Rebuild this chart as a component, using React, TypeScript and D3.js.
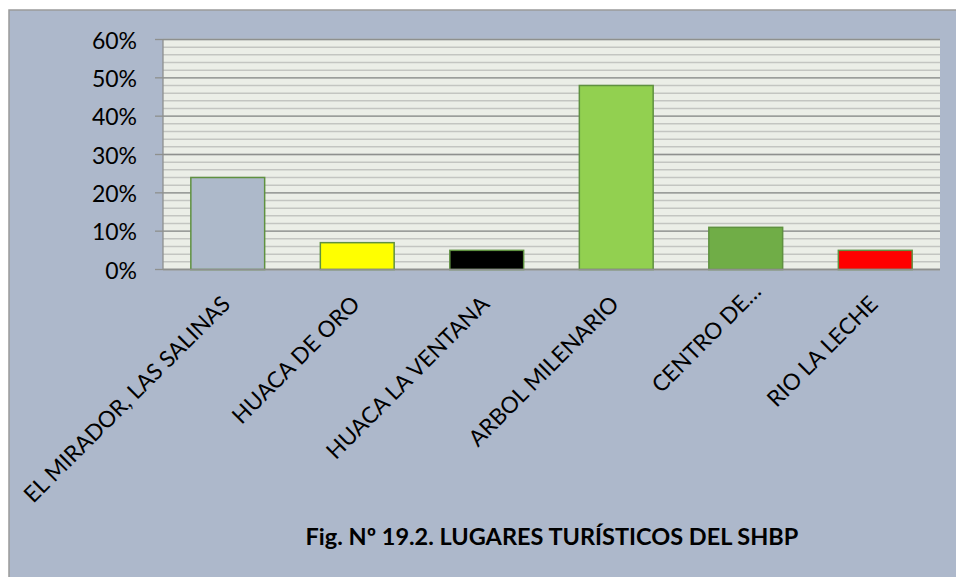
import React from "react";
import * as d3 from "d3";

const categories = [
  "EL MIRADOR, LAS SALINAS",
  "HUACA DE ORO",
  "HUACA LA VENTANA",
  "ARBOL MILENARIO",
  "CENTRO DE…",
  "RIO LA LECHE",
];
const values = [0.24, 0.07, 0.05, 0.48, 0.11, 0.05];
const barColors = ["#ADB9CA", "#FFFF00", "#000000", "#92D050", "#70AD47", "#FF0000"];
const yTicks = [0, 0.1, 0.2, 0.3, 0.4, 0.5, 0.6];
const minorTicks = d3.range(0, 0.6001, 0.02);
const title = "Fig. Nº 19.2. LUGARES TURÍSTICOS DEL SHBP";

const W = 956;
const H = 577;
const FONT = "Lato, 'Open Sans', sans-serif";

export default function App() {
  const plot = { left: 163, right: 940, top: 39.5, bottom: 269.5 };
  const x = d3
    .scaleBand<string>()
    .domain(categories)
    .range([plot.left, plot.right])
    .paddingInner(0.43)
    .paddingOuter(0.215);
  const y = d3.scaleLinear().domain([0, 0.6]).range([plot.bottom, plot.top]);
  const fmt = d3.format(".0%");

  return (
    <svg
      width={W}
      height={H}
      style={{ position: "absolute", left: 0, top: 0 }}
      fontFamily={FONT}
    >
      <rect x={0} y={0} width={W} height={H} fill="#ffffff" />
      <rect x={9} y={10} width={W} height={H} fill="#ADB8CB" stroke="#9a9a9a" strokeWidth={1.5} />
      <rect
        x={plot.left}
        y={plot.top}
        width={plot.right - plot.left}
        height={plot.bottom - plot.top}
        fill="#EBEEE7"
      />
      {minorTicks.map((t, i) => (
        <line
          key={"m" + i}
          x1={plot.left}
          x2={plot.right}
          y1={y(t)}
          y2={y(t)}
          stroke="#c3c5c1"
          strokeWidth={1.5}
        />
      ))}
      {yTicks.map((t, i) => (
        <g key={"t" + i}>
          <line x1={plot.left} x2={plot.right} y1={y(t)} y2={y(t)} stroke="#8e908e" strokeWidth={1.3} />
          <line x1={155} x2={plot.left} y1={y(t)} y2={y(t)} stroke="#8e908e" strokeWidth={1.3} />
          <text
            x={137}
            y={y(t)}
            textAnchor="end"
            dominantBaseline="central"
            fontSize={23}
            fill="#000"
          >
            {fmt(t)}
          </text>
        </g>
      ))}
      <line x1={plot.left} x2={plot.left} y1={plot.top} y2={plot.bottom} stroke="#8e908e" strokeWidth={1.3} />
      {categories.map((c, i) => (
        <rect
          key={"b" + i}
          x={x(c)}
          y={y(values[i])}
          width={x.bandwidth()}
          height={y(0) - y(values[i])}
          fill={barColors[i]}
          stroke="#5F9140"
          strokeWidth={1.5}
        />
      ))}
      <line x1={plot.left} x2={plot.right} y1={plot.bottom} y2={plot.bottom} stroke="#8e908e" strokeWidth={1.5} />
      {categories.map((c, i) => {
        const cx = (x(c) as number) + x.bandwidth() / 2;
        const shift = c.endsWith("…") ? 18 : 0;
        return (
          <text
            key={"l" + i}
            transform={`translate(${cx + 4},${plot.bottom + 36}) rotate(-45)`}
            textAnchor="end"
            dx={shift}
            fontSize={22.5}
            fill="#000"
          >
            {c}
          </text>
        );
      })}
      <text x={552} y={545} textAnchor="middle" fontSize={23.5} fontWeight="bold" fill="#000">
        {title}
      </text>
    </svg>
  );
}
